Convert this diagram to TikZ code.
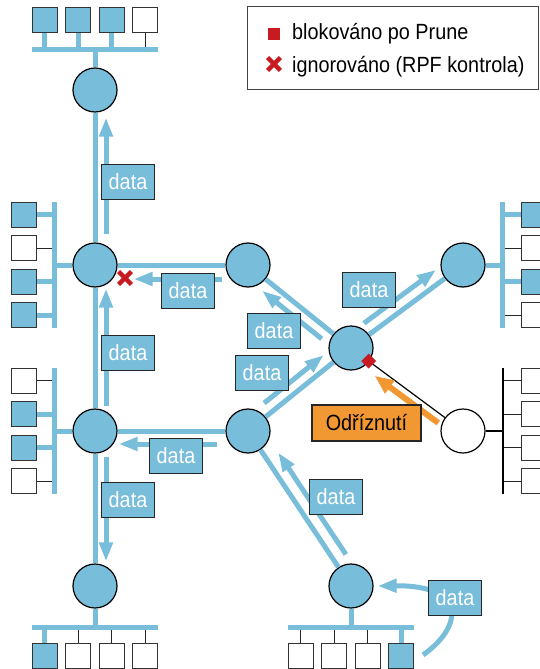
\documentclass[tikz,border=0pt]{standalone}
\usepackage{fontspec}
\setmainfont{Liberation Sans}[FakeStretch=0.9]
\usetikzlibrary{positioning,arrows.meta,calc,shapes.misc}
\definecolor{netblue}{RGB}{120,189,217}
\definecolor{cutorange}{RGB}{242,152,50}
\definecolor{blockred}{RGB}{200,27,33}
\tikzset{
  rtr/.style={circle,draw=black,line width=1.2pt,fill=netblue,minimum size=44pt,inner sep=0pt},
  rtroff/.style={rtr,fill=white},
  hoston/.style={draw=black!80,line width=1.2pt,fill=netblue,minimum size=25pt,inner sep=0pt},
  hostoff/.style={hoston,fill=white},
  stubon/.style={draw=netblue,line width=5pt},
  stuboff/.style={draw=black!85,line width=1.2pt},
  bus/.style={draw=netblue,line width=5pt},
  link/.style={draw=netblue,line width=5pt},
  pruned/.style={draw=black,line width=1.2pt},
  darr/.style={draw=netblue,line width=5pt,-{Triangle[length=19pt,width=13pt]}},
  carr/.style={draw=cutorange,line width=6pt,-{Triangle[length=19pt,width=15pt]}},
  dat/.style={draw=black!85,line width=1.2pt,fill=netblue,text=white,minimum width=53pt,minimum height=35pt,inner sep=0pt,font=\fontsize{22}{24}\selectfont},
  cutbox/.style={dat,fill=cutorange,text=black,minimum width=109pt,minimum height=36pt},
  blksq/.style={fill=blockred,minimum size=12pt,inner sep=0pt},
  blk/.style={blksq,minimum size=10.5pt,rotate=45},
  ign/.style={cross out,draw=blockred,line width=4.3pt,minimum size=8.5pt,inner sep=0pt},
  lbl/.style={inner sep=0pt,font=\fontsize{22}{24}\selectfont},
}
\begin{document}
\begin{tikzpicture}[x=1pt,y=-1pt]
  \useasboundingbox (0,0) rectangle (540,669);
  % routers
  \node[rtr] (A) at (95,90) {};
  \node[rtr] (B) at (95,265) {};
  \node[rtr] (C) at (95,431) {};
  \node[rtr] (D) at (95,586) {};
  \node[rtr] (E) at (248,265) {};
  \node[rtr] (F) at (248,431) {};
  \node[rtr] (G) at (351,348) {};
  \node[rtr] (H) at (463,265) {};
  \node[rtroff] (I) at (463,431) {};
  \node[rtr] (J) at (351,586) {};
  % LANs
  \coordinate (busa) at (95,50);
  \foreach \k [count=\i] in {on,on,on,off} {
    \node[host\k] (ha\i) at ({95+(\i-2.5)*33.5},20) {};
    \draw[stub\k] (ha\i) -- (ha\i |- busa);
  }
  \draw[bus] (32.25,50) -- (157.75,50);
  \draw[link] (A) -- (busa);
  \coordinate (busb) at (54,265);
  \foreach \k [count=\i] in {on,off,on,on} {
    \node[host\k] (hb\i) at (24,{265+(\i-2.5)*33.5}) {};
    \draw[stub\k] (hb\i) -- (hb\i -| busb);
  }
  \draw[bus] (54,202.25) -- (54,327.75);
  \draw[link] (B) -- (busb);
  \coordinate (busc) at (54,431);
  \foreach \k [count=\i] in {off,on,on,off} {
    \node[host\k] (hc\i) at (24,{431+(\i-2.5)*33.5}) {};
    \draw[stub\k] (hc\i) -- (hc\i -| busc);
  }
  \draw[bus] (54,368.25) -- (54,493.75);
  \draw[link] (C) -- (busc);
  \coordinate (busd) at (95,627);
  \foreach \k [count=\i] in {on,off,off,off} {
    \node[host\k] (hd\i) at ({95+(\i-2.5)*33.5},656) {};
    \draw[stub\k] (hd\i) -- (hd\i |- busd);
  }
  \draw[bus] (32.25,627) -- (157.75,627);
  \draw[link] (D) -- (busd);
  \coordinate (bush) at (502,265);
  \foreach \k [count=\i] in {on,off,on,off} {
    \node[host\k] (hh\i) at (534,{265+(\i-2.5)*33.5}) {};
    \draw[stub\k] (hh\i) -- (hh\i -| bush);
  }
  \draw[bus] (502,202.25) -- (502,327.75);
  \draw[link] (H) -- (bush);
  \coordinate (busi) at (503,431);
  \foreach \i in {1,...,4} {
    \node[hostoff] (hi\i) at (534,{431+(\i-2.5)*33.5}) {};
    \draw[stuboff] (hi\i) -- (hi\i -| busi);
  }
  \draw[pruned] (503,368.25) -- (503,493.75);
  \draw[pruned] (I) -- (busi);
  \coordinate (busj) at (351,627);
  \foreach \k [count=\i] in {off,off,off,on} {
    \node[host\k] (hj\i) at ({351+(\i-2.5)*33.5},656) {};
    \draw[stub\k] (hj\i) -- (hj\i |- busj);
  }
  \draw[bus] (288.25,627) -- (413.75,627);
  \draw[link] (J) -- (busj);
  % links between routers
  \draw[link] (A) -- (B);
  \draw[link] (B) -- (C);
  \draw[link] (C) -- (D);
  \draw[link] (B) -- (E);
  \draw[link] (C) -- (F);
  \draw[link] (E) -- (G);
  \draw[link] (F) -- (G);
  \draw[link] (G) -- (H);
  \draw[link] (F) -- (J);
  \draw[pruned] (G) -- (I);
  % data flows
  \draw[darr,transform canvas={shift={(11,0)}},shorten <=8pt,shorten >=5pt] (B) -- (A);
  \draw[darr,transform canvas={shift={(11,0)}},shorten <=2pt,shorten >=1pt] (C) -- (B);
  \draw[darr,transform canvas={shift={(0,14)}},shorten <=3pt,shorten >=16pt] (E) -- (B);
  \draw[darr,transform canvas={shift={(11,0)}},shorten <=3pt,shorten >=2pt] (C) -- (D);
  \draw[darr,transform canvas={shift={(0,13)}},shorten <=8pt,shorten >=1pt] (F) -- (C);
  \draw[darr,transform canvas={shift={(-7,8.8)}},shorten <=6pt,shorten >=4.5pt] (G) -- (E);
  \draw[darr,transform canvas={shift={(-7.3,-9)}},shorten <=7.5pt,shorten >=3pt] (F) -- (G);
  \draw[darr,transform canvas={shift={(-7.2,-9.8)}},shorten <=2.5pt,shorten >=2pt] (G) -- (H);
  \draw[darr,transform canvas={shift={(11,-7.3)}},shorten <=6.6pt,shorten >=12pt] (J) -- (F);
  \coordinate (src) at (423,655);
  \draw[darr,shorten >=4pt] (src) .. controls (465,625) and (465,585) .. (J.east);
  \draw[carr,transform canvas={shift={(-5,6.6)}},shorten <=2pt,shorten >=13pt] (I) -- (G);
  % labels
  \node[dat] (d1) at (128,182) {data};
  \node[dat] (d2) at (128,353) {data};
  \node[dat] (d3) at (188,291) {data};
  \node[dat] (d4) at (128,500) {data};
  \node[dat] (d5) at (176,456) {data};
  \node[dat] (d6) at (274,331) {data};
  \node[dat] (d7) at (262,373) {data};
  \node[dat] (d8) at (369,290) {data};
  \node[dat] (d9) at (336,497) {data};
  \node[dat] (d10) at (455,598) {data};
  \node[cutbox] (prune) at (366.5,423) {Odříznutí};
  \node[blk] (block) at ($(G)!22pt!(I)$) {};
  \node[ign] (rpf) at (125,278) {};
  % legend
  \node[draw=black!75,line width=1pt,minimum width=291pt,minimum height=82pt,inner sep=0pt] (legend) at (392.5,48) {};
  \node[blksq] (lsq) at (274,34) {};
  \node[lbl,anchor=base west] (l1) at (292,40) {blokováno po Prune};
  \node[ign] (lx) at (274,64) {};
  \node[lbl,anchor=base west] (l2) at (292,72) {ignorováno (RPF kontrola)};
\end{tikzpicture}
\end{document}
